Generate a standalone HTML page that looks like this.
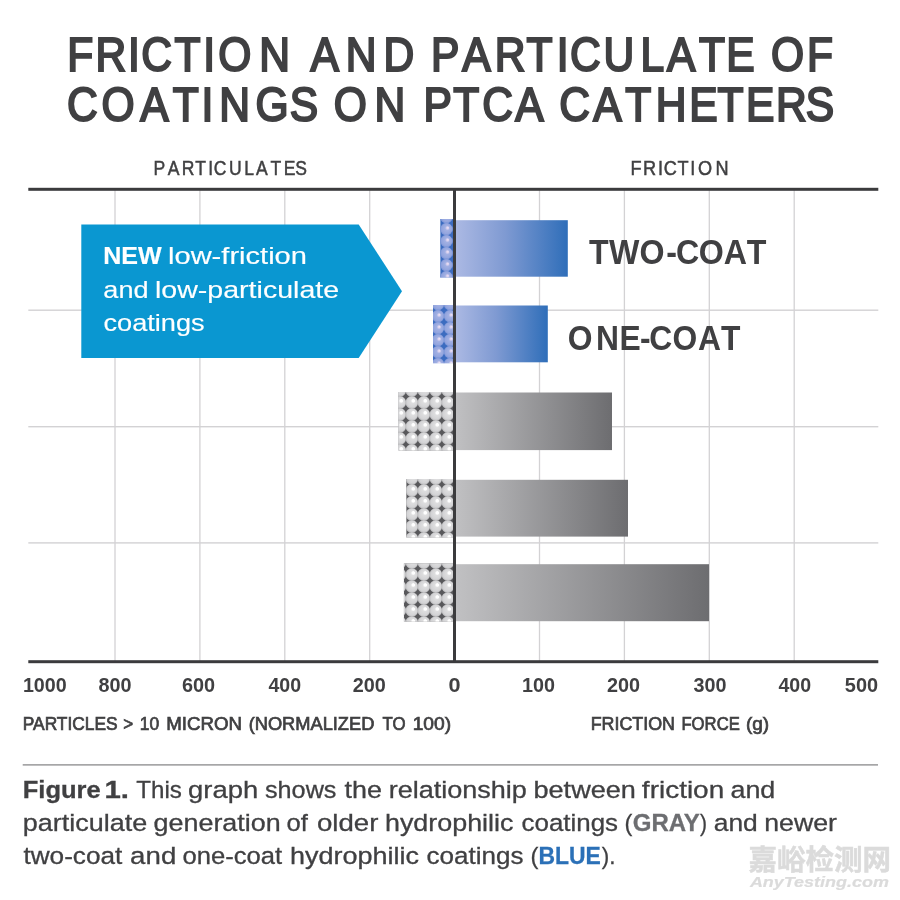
<!DOCTYPE html>
<html lang="en"><head><meta charset="utf-8">
<title>Friction and Particulate of Coatings on PTCA Catheters</title>
<style>
html,body{margin:0;padding:0;background:#fff;}
body{width:900px;height:900px;overflow:hidden;}
svg{display:block;}
text{font-family:"Liberation Sans", "Noto Sans CJK SC", sans-serif;}
.t{fill:#404042;stroke:#404042;stroke-width:2.1px;stroke-linejoin:miter;font-size:48px;}
.h{fill:#404042;font-size:20.6px;stroke:#404042;stroke-width:.5px;}
.ax{fill:#404042;font-size:19.6px;font-weight:bold;}
.al{fill:#404042;font-size:18px;stroke:#404042;stroke-width:.7px;}
.lab{fill:#404042;font-size:34.5px;font-weight:bold;}
.arr{fill:#fff;font-size:23.6px;stroke:#fff;stroke-width:.15px;}
.cap{fill:#404042;font-size:24.3px;stroke:#404042;stroke-width:.3px;}
.b{font-weight:bold;}
.wm{fill:#dbdbdb;stroke:#dbdbdb;stroke-width:.5px;}
.wc{font-size:28.6px;}
.we{font-size:14.8px;font-style:italic;stroke-width:.2px;}
</style></head><body>
<svg width="900" height="900" viewBox="0 0 900 900">
<defs>
<linearGradient id="gb" x1="0" y1="0" x2="1" y2="0"><stop offset="0" stop-color="#adbae4"/><stop offset=".45" stop-color="#7f9ad2"/><stop offset="1" stop-color="#2f6eb9"/></linearGradient>
<linearGradient id="gg" x1="0" y1="0" x2="1" y2="0"><stop offset="0" stop-color="#c1c1c3"/><stop offset="1" stop-color="#6d6d70"/></linearGradient>
<radialGradient id="cg" cx=".5" cy=".5" r=".5" fx=".66" fy=".33"><stop offset="0" stop-color="#ffffff"/><stop offset=".2" stop-color="#ffffff"/><stop offset=".36" stop-color="#dededf"/><stop offset=".8" stop-color="#d3d3d5"/><stop offset="1" stop-color="#b9b9bb"/></radialGradient>
<radialGradient id="cb" cx=".5" cy=".5" r=".5" fx=".62" fy=".38"><stop offset="0" stop-color="#ece2f5"/><stop offset=".16" stop-color="#dcd3ef"/><stop offset=".36" stop-color="#a2b0e3"/><stop offset=".8" stop-color="#93a5de"/><stop offset="1" stop-color="#7792d6"/></radialGradient>
</defs>
<rect width="900" height="900" fill="#fff"/>
<text class="t" transform="scale(0.8870,1)" y="71.1" x="75.7 107.7 144.2 159.3 196.8 229.2 246.1 292.4 328.9 350.0 389.7 432.5 469.2 486.0 521.2 557.9 593.5 627.6 642.6 680.4 722.0 752.0 788.1 818.7 848.7 869.3 909.7">FRICTION AND PARTICULATE OF</text>
<text class="t" transform="scale(0.8870,1)" y="121.2" x="75.5 114.3 158.2 194.9 227.1 247.1 288.0 326.7 357.4 376.4 422.2 458.5 477.4 511.0 543.7 581.0 617.6 630.6 668.9 704.9 739.4 777.0 808.9 841.1 874.9 908.5">COATINGS ON PTCA CATHETERS</text>
<text class="h" transform="scale(0.8520,1)" y="174.8" x="180.3 196.8 213.4 229.1 244.4 251.0 268.7 286.6 300.5 317.4 333.0 346.4">PARTICULATES</text>
<text class="h" transform="scale(0.8797,1)" y="174.8" x="716.7 731.0 747.9 754.5 770.1 784.7 793.4 813.4">FRICTION</text>
<rect x="114.35" y="190" width="1.3" height="471" fill="#d3d2d4"/>
<rect x="199.25" y="190" width="1.3" height="471" fill="#d3d2d4"/>
<rect x="284.15" y="190" width="1.3" height="471" fill="#d3d2d4"/>
<rect x="369.05" y="190" width="1.3" height="471" fill="#d3d2d4"/>
<rect x="538.85" y="190" width="1.3" height="471" fill="#d3d2d4"/>
<rect x="623.75" y="190" width="1.3" height="471" fill="#d3d2d4"/>
<rect x="708.65" y="190" width="1.3" height="471" fill="#d3d2d4"/>
<rect x="793.55" y="190" width="1.3" height="471" fill="#d3d2d4"/>
<rect x="28.3" y="309.50" width="850" height="1.4" fill="#d3d2d4"/>
<rect x="28.3" y="426.00" width="850" height="1.4" fill="#d3d2d4"/>
<rect x="28.3" y="542.20" width="850" height="1.4" fill="#d3d2d4"/>
<path d="M81.3 224.5H358.7L402 291.2L358.7 358H81.3Z" fill="#0a97d1"/>
<text class="arr b" x="103.26" y="264.4" textLength="58.54" lengthAdjust="spacingAndGlyphs">NEW</text>
<text class="arr" x="168.01" y="264.4" textLength="138.95" lengthAdjust="spacingAndGlyphs">low-friction</text>
<text class="arr" x="103.38" y="298.3" textLength="45.22" lengthAdjust="spacingAndGlyphs">and</text>
<text class="arr" x="155.03" y="298.3" textLength="184.07" lengthAdjust="spacingAndGlyphs">low-particulate</text>
<text class="arr" x="103.44" y="331.2" textLength="101.27" lengthAdjust="spacingAndGlyphs">coatings</text>
<rect x="454" y="220.2" width="113.8" height="56.5" fill="url(#gb)"/>
<clipPath id="cp1"><rect x="440.2" y="219.0" width="15.8" height="58.6"/></clipPath>
<g clip-path="url(#cp1)">
<rect x="440.2" y="219.0" width="15.8" height="58.6" fill="#3c6cc0"/>
<circle cx="434.4" cy="217.1" r="6.30" fill="url(#cb)"/>
<circle cx="446.4" cy="217.1" r="6.30" fill="url(#cb)"/>
<circle cx="458.4" cy="217.1" r="6.30" fill="url(#cb)"/>
<circle cx="434.4" cy="229.1" r="6.30" fill="url(#cb)"/>
<circle cx="446.4" cy="229.1" r="6.30" fill="url(#cb)"/>
<circle cx="458.4" cy="229.1" r="6.30" fill="url(#cb)"/>
<circle cx="434.4" cy="241.1" r="6.30" fill="url(#cb)"/>
<circle cx="446.4" cy="241.1" r="6.30" fill="url(#cb)"/>
<circle cx="458.4" cy="241.1" r="6.30" fill="url(#cb)"/>
<circle cx="434.4" cy="253.1" r="6.30" fill="url(#cb)"/>
<circle cx="446.4" cy="253.1" r="6.30" fill="url(#cb)"/>
<circle cx="458.4" cy="253.1" r="6.30" fill="url(#cb)"/>
<circle cx="434.4" cy="265.1" r="6.30" fill="url(#cb)"/>
<circle cx="446.4" cy="265.1" r="6.30" fill="url(#cb)"/>
<circle cx="458.4" cy="265.1" r="6.30" fill="url(#cb)"/>
<circle cx="434.4" cy="277.1" r="6.30" fill="url(#cb)"/>
<circle cx="446.4" cy="277.1" r="6.30" fill="url(#cb)"/>
<circle cx="458.4" cy="277.1" r="6.30" fill="url(#cb)"/>
<circle cx="434.4" cy="289.1" r="6.30" fill="url(#cb)"/>
<circle cx="446.4" cy="289.1" r="6.30" fill="url(#cb)"/>
<circle cx="458.4" cy="289.1" r="6.30" fill="url(#cb)"/>
</g>
<rect x="454" y="305.5" width="93.8" height="56.8" fill="url(#gb)"/>
<clipPath id="cp2"><rect x="433.0" y="305.0" width="23.0" height="58.3"/></clipPath>
<g clip-path="url(#cp2)">
<rect x="433.0" y="305.0" width="23.0" height="58.3" fill="#3c6cc0"/>
<circle cx="426.0" cy="304.1" r="6.30" fill="url(#cb)"/>
<circle cx="438.0" cy="304.1" r="6.30" fill="url(#cb)"/>
<circle cx="450.0" cy="304.1" r="6.30" fill="url(#cb)"/>
<circle cx="462.0" cy="304.1" r="6.30" fill="url(#cb)"/>
<circle cx="426.0" cy="316.1" r="6.30" fill="url(#cb)"/>
<circle cx="438.0" cy="316.1" r="6.30" fill="url(#cb)"/>
<circle cx="450.0" cy="316.1" r="6.30" fill="url(#cb)"/>
<circle cx="462.0" cy="316.1" r="6.30" fill="url(#cb)"/>
<circle cx="426.0" cy="328.1" r="6.30" fill="url(#cb)"/>
<circle cx="438.0" cy="328.1" r="6.30" fill="url(#cb)"/>
<circle cx="450.0" cy="328.1" r="6.30" fill="url(#cb)"/>
<circle cx="462.0" cy="328.1" r="6.30" fill="url(#cb)"/>
<circle cx="426.0" cy="340.1" r="6.30" fill="url(#cb)"/>
<circle cx="438.0" cy="340.1" r="6.30" fill="url(#cb)"/>
<circle cx="450.0" cy="340.1" r="6.30" fill="url(#cb)"/>
<circle cx="462.0" cy="340.1" r="6.30" fill="url(#cb)"/>
<circle cx="426.0" cy="352.1" r="6.30" fill="url(#cb)"/>
<circle cx="438.0" cy="352.1" r="6.30" fill="url(#cb)"/>
<circle cx="450.0" cy="352.1" r="6.30" fill="url(#cb)"/>
<circle cx="462.0" cy="352.1" r="6.30" fill="url(#cb)"/>
<circle cx="426.0" cy="364.1" r="6.30" fill="url(#cb)"/>
<circle cx="438.0" cy="364.1" r="6.30" fill="url(#cb)"/>
<circle cx="450.0" cy="364.1" r="6.30" fill="url(#cb)"/>
<circle cx="462.0" cy="364.1" r="6.30" fill="url(#cb)"/>
</g>
<rect x="454" y="392.5" width="158" height="57.6" fill="url(#gg)"/>
<clipPath id="cp3"><rect x="398.4" y="392.0" width="57.6" height="58.7"/></clipPath>
<g clip-path="url(#cp3)">
<rect x="398.4" y="392.0" width="57.6" height="58.7" fill="#58585b"/>
<circle cx="387.8" cy="390.4" r="6.35" fill="url(#cg)"/>
<circle cx="399.8" cy="390.4" r="6.35" fill="url(#cg)"/>
<circle cx="411.8" cy="390.4" r="6.35" fill="url(#cg)"/>
<circle cx="423.8" cy="390.4" r="6.35" fill="url(#cg)"/>
<circle cx="435.8" cy="390.4" r="6.35" fill="url(#cg)"/>
<circle cx="447.8" cy="390.4" r="6.35" fill="url(#cg)"/>
<circle cx="459.8" cy="390.4" r="6.35" fill="url(#cg)"/>
<circle cx="387.8" cy="402.4" r="6.35" fill="url(#cg)"/>
<circle cx="399.8" cy="402.4" r="6.35" fill="url(#cg)"/>
<circle cx="411.8" cy="402.4" r="6.35" fill="url(#cg)"/>
<circle cx="423.8" cy="402.4" r="6.35" fill="url(#cg)"/>
<circle cx="435.8" cy="402.4" r="6.35" fill="url(#cg)"/>
<circle cx="447.8" cy="402.4" r="6.35" fill="url(#cg)"/>
<circle cx="459.8" cy="402.4" r="6.35" fill="url(#cg)"/>
<circle cx="387.8" cy="414.4" r="6.35" fill="url(#cg)"/>
<circle cx="399.8" cy="414.4" r="6.35" fill="url(#cg)"/>
<circle cx="411.8" cy="414.4" r="6.35" fill="url(#cg)"/>
<circle cx="423.8" cy="414.4" r="6.35" fill="url(#cg)"/>
<circle cx="435.8" cy="414.4" r="6.35" fill="url(#cg)"/>
<circle cx="447.8" cy="414.4" r="6.35" fill="url(#cg)"/>
<circle cx="459.8" cy="414.4" r="6.35" fill="url(#cg)"/>
<circle cx="387.8" cy="426.4" r="6.35" fill="url(#cg)"/>
<circle cx="399.8" cy="426.4" r="6.35" fill="url(#cg)"/>
<circle cx="411.8" cy="426.4" r="6.35" fill="url(#cg)"/>
<circle cx="423.8" cy="426.4" r="6.35" fill="url(#cg)"/>
<circle cx="435.8" cy="426.4" r="6.35" fill="url(#cg)"/>
<circle cx="447.8" cy="426.4" r="6.35" fill="url(#cg)"/>
<circle cx="459.8" cy="426.4" r="6.35" fill="url(#cg)"/>
<circle cx="387.8" cy="438.4" r="6.35" fill="url(#cg)"/>
<circle cx="399.8" cy="438.4" r="6.35" fill="url(#cg)"/>
<circle cx="411.8" cy="438.4" r="6.35" fill="url(#cg)"/>
<circle cx="423.8" cy="438.4" r="6.35" fill="url(#cg)"/>
<circle cx="435.8" cy="438.4" r="6.35" fill="url(#cg)"/>
<circle cx="447.8" cy="438.4" r="6.35" fill="url(#cg)"/>
<circle cx="459.8" cy="438.4" r="6.35" fill="url(#cg)"/>
<circle cx="387.8" cy="450.4" r="6.35" fill="url(#cg)"/>
<circle cx="399.8" cy="450.4" r="6.35" fill="url(#cg)"/>
<circle cx="411.8" cy="450.4" r="6.35" fill="url(#cg)"/>
<circle cx="423.8" cy="450.4" r="6.35" fill="url(#cg)"/>
<circle cx="435.8" cy="450.4" r="6.35" fill="url(#cg)"/>
<circle cx="447.8" cy="450.4" r="6.35" fill="url(#cg)"/>
<circle cx="459.8" cy="450.4" r="6.35" fill="url(#cg)"/>
<circle cx="387.8" cy="462.4" r="6.35" fill="url(#cg)"/>
<circle cx="399.8" cy="462.4" r="6.35" fill="url(#cg)"/>
<circle cx="411.8" cy="462.4" r="6.35" fill="url(#cg)"/>
<circle cx="423.8" cy="462.4" r="6.35" fill="url(#cg)"/>
<circle cx="435.8" cy="462.4" r="6.35" fill="url(#cg)"/>
<circle cx="447.8" cy="462.4" r="6.35" fill="url(#cg)"/>
<circle cx="459.8" cy="462.4" r="6.35" fill="url(#cg)"/>
</g>
<rect x="454" y="479.8" width="174" height="56.8" fill="url(#gg)"/>
<clipPath id="cp4"><rect x="406.2" y="479.0" width="49.8" height="58.6"/></clipPath>
<g clip-path="url(#cp4)">
<rect x="406.2" y="479.0" width="49.8" height="58.6" fill="#58585b"/>
<circle cx="399.8" cy="478.4" r="6.35" fill="url(#cg)"/>
<circle cx="411.8" cy="478.4" r="6.35" fill="url(#cg)"/>
<circle cx="423.8" cy="478.4" r="6.35" fill="url(#cg)"/>
<circle cx="435.8" cy="478.4" r="6.35" fill="url(#cg)"/>
<circle cx="447.8" cy="478.4" r="6.35" fill="url(#cg)"/>
<circle cx="459.8" cy="478.4" r="6.35" fill="url(#cg)"/>
<circle cx="399.8" cy="490.4" r="6.35" fill="url(#cg)"/>
<circle cx="411.8" cy="490.4" r="6.35" fill="url(#cg)"/>
<circle cx="423.8" cy="490.4" r="6.35" fill="url(#cg)"/>
<circle cx="435.8" cy="490.4" r="6.35" fill="url(#cg)"/>
<circle cx="447.8" cy="490.4" r="6.35" fill="url(#cg)"/>
<circle cx="459.8" cy="490.4" r="6.35" fill="url(#cg)"/>
<circle cx="399.8" cy="502.4" r="6.35" fill="url(#cg)"/>
<circle cx="411.8" cy="502.4" r="6.35" fill="url(#cg)"/>
<circle cx="423.8" cy="502.4" r="6.35" fill="url(#cg)"/>
<circle cx="435.8" cy="502.4" r="6.35" fill="url(#cg)"/>
<circle cx="447.8" cy="502.4" r="6.35" fill="url(#cg)"/>
<circle cx="459.8" cy="502.4" r="6.35" fill="url(#cg)"/>
<circle cx="399.8" cy="514.4" r="6.35" fill="url(#cg)"/>
<circle cx="411.8" cy="514.4" r="6.35" fill="url(#cg)"/>
<circle cx="423.8" cy="514.4" r="6.35" fill="url(#cg)"/>
<circle cx="435.8" cy="514.4" r="6.35" fill="url(#cg)"/>
<circle cx="447.8" cy="514.4" r="6.35" fill="url(#cg)"/>
<circle cx="459.8" cy="514.4" r="6.35" fill="url(#cg)"/>
<circle cx="399.8" cy="526.4" r="6.35" fill="url(#cg)"/>
<circle cx="411.8" cy="526.4" r="6.35" fill="url(#cg)"/>
<circle cx="423.8" cy="526.4" r="6.35" fill="url(#cg)"/>
<circle cx="435.8" cy="526.4" r="6.35" fill="url(#cg)"/>
<circle cx="447.8" cy="526.4" r="6.35" fill="url(#cg)"/>
<circle cx="459.8" cy="526.4" r="6.35" fill="url(#cg)"/>
<circle cx="399.8" cy="538.4" r="6.35" fill="url(#cg)"/>
<circle cx="411.8" cy="538.4" r="6.35" fill="url(#cg)"/>
<circle cx="423.8" cy="538.4" r="6.35" fill="url(#cg)"/>
<circle cx="435.8" cy="538.4" r="6.35" fill="url(#cg)"/>
<circle cx="447.8" cy="538.4" r="6.35" fill="url(#cg)"/>
<circle cx="459.8" cy="538.4" r="6.35" fill="url(#cg)"/>
</g>
<rect x="454" y="564.2" width="255" height="57" fill="url(#gg)"/>
<clipPath id="cp5"><rect x="403.8" y="563.2" width="52.2" height="58.5"/></clipPath>
<g clip-path="url(#cp5)">
<rect x="403.8" y="563.2" width="52.2" height="58.5" fill="#58585b"/>
<circle cx="399.8" cy="562.6" r="6.35" fill="url(#cg)"/>
<circle cx="411.8" cy="562.6" r="6.35" fill="url(#cg)"/>
<circle cx="423.8" cy="562.6" r="6.35" fill="url(#cg)"/>
<circle cx="435.8" cy="562.6" r="6.35" fill="url(#cg)"/>
<circle cx="447.8" cy="562.6" r="6.35" fill="url(#cg)"/>
<circle cx="459.8" cy="562.6" r="6.35" fill="url(#cg)"/>
<circle cx="399.8" cy="574.6" r="6.35" fill="url(#cg)"/>
<circle cx="411.8" cy="574.6" r="6.35" fill="url(#cg)"/>
<circle cx="423.8" cy="574.6" r="6.35" fill="url(#cg)"/>
<circle cx="435.8" cy="574.6" r="6.35" fill="url(#cg)"/>
<circle cx="447.8" cy="574.6" r="6.35" fill="url(#cg)"/>
<circle cx="459.8" cy="574.6" r="6.35" fill="url(#cg)"/>
<circle cx="399.8" cy="586.6" r="6.35" fill="url(#cg)"/>
<circle cx="411.8" cy="586.6" r="6.35" fill="url(#cg)"/>
<circle cx="423.8" cy="586.6" r="6.35" fill="url(#cg)"/>
<circle cx="435.8" cy="586.6" r="6.35" fill="url(#cg)"/>
<circle cx="447.8" cy="586.6" r="6.35" fill="url(#cg)"/>
<circle cx="459.8" cy="586.6" r="6.35" fill="url(#cg)"/>
<circle cx="399.8" cy="598.6" r="6.35" fill="url(#cg)"/>
<circle cx="411.8" cy="598.6" r="6.35" fill="url(#cg)"/>
<circle cx="423.8" cy="598.6" r="6.35" fill="url(#cg)"/>
<circle cx="435.8" cy="598.6" r="6.35" fill="url(#cg)"/>
<circle cx="447.8" cy="598.6" r="6.35" fill="url(#cg)"/>
<circle cx="459.8" cy="598.6" r="6.35" fill="url(#cg)"/>
<circle cx="399.8" cy="610.6" r="6.35" fill="url(#cg)"/>
<circle cx="411.8" cy="610.6" r="6.35" fill="url(#cg)"/>
<circle cx="423.8" cy="610.6" r="6.35" fill="url(#cg)"/>
<circle cx="435.8" cy="610.6" r="6.35" fill="url(#cg)"/>
<circle cx="447.8" cy="610.6" r="6.35" fill="url(#cg)"/>
<circle cx="459.8" cy="610.6" r="6.35" fill="url(#cg)"/>
<circle cx="399.8" cy="622.6" r="6.35" fill="url(#cg)"/>
<circle cx="411.8" cy="622.6" r="6.35" fill="url(#cg)"/>
<circle cx="423.8" cy="622.6" r="6.35" fill="url(#cg)"/>
<circle cx="435.8" cy="622.6" r="6.35" fill="url(#cg)"/>
<circle cx="447.8" cy="622.6" r="6.35" fill="url(#cg)"/>
<circle cx="459.8" cy="622.6" r="6.35" fill="url(#cg)"/>
</g>
<rect x="28.3" y="187.8" width="850" height="3" fill="#3b3b3d"/>
<rect x="28.3" y="660.2" width="850" height="3" fill="#3b3b3d"/>
<rect x="453" y="188" width="3" height="474" fill="#3b3b3d"/>
<text class="lab" transform="scale(0.9334,1)" y="264.2" x="631.1 652.4 685.1 713.7 724.2 748.5 775.4 800.1">TWO-COAT</text>
<text class="lab" transform="scale(0.9218,1)" y="349.7" x="616.0 646.6 672.0 694.2 704.4 729.7 757.1 782.1">ONE-COAT</text>
<text class="ax" x="22.90" y="692.3" textLength="43.76" lengthAdjust="spacingAndGlyphs">1000</text>
<text class="ax" x="98.58" y="692.3" textLength="33.05" lengthAdjust="spacingAndGlyphs">800</text>
<text class="ax" x="181.97" y="692.3" textLength="33.15" lengthAdjust="spacingAndGlyphs">600</text>
<text class="ax" x="268.44" y="692.3" textLength="32.67" lengthAdjust="spacingAndGlyphs">400</text>
<text class="ax" x="352.70" y="692.3" textLength="33.06" lengthAdjust="spacingAndGlyphs">200</text>
<text class="ax" x="522.10" y="692.3" textLength="32.96" lengthAdjust="spacingAndGlyphs">100</text>
<text class="ax" x="606.90" y="692.3" textLength="33.06" lengthAdjust="spacingAndGlyphs">200</text>
<text class="ax" x="693.50" y="692.3" textLength="32.98" lengthAdjust="spacingAndGlyphs">300</text>
<text class="ax" x="778.44" y="692.3" textLength="32.67" lengthAdjust="spacingAndGlyphs">400</text>
<text class="ax" x="844.85" y="692.3" textLength="33.28" lengthAdjust="spacingAndGlyphs">500</text>
<text class="ax" x="448.47" y="692.3" textLength="12.05" lengthAdjust="spacingAndGlyphs">0</text>
<text class="al" x="22.75" y="729.8" textLength="94.93" lengthAdjust="spacingAndGlyphs">PARTICLES</text>
<text class="al" x="123.27" y="729.8" textLength="9.88" lengthAdjust="spacingAndGlyphs">&gt;</text>
<text class="al" x="139.83" y="729.8" textLength="19.41" lengthAdjust="spacingAndGlyphs">10</text>
<text class="al" x="166.27" y="729.8" textLength="75.75" lengthAdjust="spacingAndGlyphs">MICRON</text>
<text class="al" x="248.65" y="729.8" textLength="125.73" lengthAdjust="spacingAndGlyphs">(NORMALIZED</text>
<text class="al" x="382.46" y="729.8" textLength="23.03" lengthAdjust="spacingAndGlyphs">TO</text>
<text class="al" x="412.69" y="729.8" textLength="38.41" lengthAdjust="spacingAndGlyphs">100)</text>
<text class="al" x="590.68" y="729.8" textLength="84.34" lengthAdjust="spacingAndGlyphs">FRICTION</text>
<text class="al" x="681.44" y="729.8" textLength="58.35" lengthAdjust="spacingAndGlyphs">FORCE</text>
<text class="al" x="745.91" y="729.8" textLength="23.24" lengthAdjust="spacingAndGlyphs">(g)</text>
<rect x="22.7" y="764.3" width="855.3" height="1.2" fill="#808082"/>
<text class="cap b" x="22.78" y="797.5" textLength="77.89" lengthAdjust="spacingAndGlyphs">Figure</text>
<text class="cap b" x="104.49" y="797.5" textLength="24.52" lengthAdjust="spacingAndGlyphs">1.</text>
<text class="cap" x="136.31" y="797.5" textLength="45.62" lengthAdjust="spacingAndGlyphs">This</text>
<text class="cap" x="188.04" y="797.5" textLength="70.17" lengthAdjust="spacingAndGlyphs">graph</text>
<text class="cap" x="265.01" y="797.5" textLength="71.46" lengthAdjust="spacingAndGlyphs">shows</text>
<text class="cap" x="344.44" y="797.5" textLength="37.41" lengthAdjust="spacingAndGlyphs">the</text>
<text class="cap" x="388.67" y="797.5" textLength="138.20" lengthAdjust="spacingAndGlyphs">relationship</text>
<text class="cap" x="533.50" y="797.5" textLength="102.39" lengthAdjust="spacingAndGlyphs">between</text>
<text class="cap" x="641.86" y="797.5" textLength="82.35" lengthAdjust="spacingAndGlyphs">friction</text>
<text class="cap" x="730.41" y="797.5" textLength="44.95" lengthAdjust="spacingAndGlyphs">and</text>
<text class="cap" x="22.81" y="831.3" textLength="124.37" lengthAdjust="spacingAndGlyphs">particulate</text>
<text class="cap" x="153.50" y="831.3" textLength="127.23" lengthAdjust="spacingAndGlyphs">generation</text>
<text class="cap" x="286.59" y="831.3" textLength="21.36" lengthAdjust="spacingAndGlyphs">of</text>
<text class="cap" x="316.94" y="831.3" textLength="61.41" lengthAdjust="spacingAndGlyphs">older</text>
<text class="cap" x="384.98" y="831.3" textLength="128.52" lengthAdjust="spacingAndGlyphs">hydrophilic</text>
<text class="cap" x="521.52" y="831.3" textLength="96.50" lengthAdjust="spacingAndGlyphs">coatings</text>
<text class="cap" x="624.55" y="831.3" textLength="7.80" lengthAdjust="spacingAndGlyphs">(</text>
<text class="cap b" x="632.73" y="831.3" textLength="67.15" lengthAdjust="spacingAndGlyphs" style="fill:#6d6e71;stroke:#6d6e71">GRAY</text>
<text class="cap" x="700.12" y="831.3" textLength="7.01" lengthAdjust="spacingAndGlyphs">)</text>
<text class="cap" x="713.69" y="831.3" textLength="44.09" lengthAdjust="spacingAndGlyphs">and</text>
<text class="cap" x="764.23" y="831.3" textLength="72.80" lengthAdjust="spacingAndGlyphs">newer</text>
<text class="cap" x="23.46" y="863.5" textLength="98.79" lengthAdjust="spacingAndGlyphs">two-coat</text>
<text class="cap" x="130.11" y="863.5" textLength="46.17" lengthAdjust="spacingAndGlyphs">and</text>
<text class="cap" x="182.42" y="863.5" textLength="99.68" lengthAdjust="spacingAndGlyphs">one-coat</text>
<text class="cap" x="289.99" y="863.5" textLength="129.03" lengthAdjust="spacingAndGlyphs">hydrophilic</text>
<text class="cap" x="426.51" y="863.5" textLength="96.94" lengthAdjust="spacingAndGlyphs">coatings</text>
<text class="cap" x="530.55" y="863.5" textLength="7.90" lengthAdjust="spacingAndGlyphs">(</text>
<text class="cap b" x="538.43" y="863.5" textLength="62.41" lengthAdjust="spacingAndGlyphs" style="fill:#2b70b7;stroke:#2b70b7">BLUE</text>
<text class="cap" x="601.76" y="863.5" textLength="13.71" lengthAdjust="spacingAndGlyphs">).</text>
<text class="wm wc b" x="748.44" y="869.9" textLength="142.54" lengthAdjust="spacingAndGlyphs">嘉峪检测网</text>
<text class="wm we b" x="749.90" y="887.3" textLength="138.98" lengthAdjust="spacingAndGlyphs">AnyTesting.com</text>
</svg>
</body></html>
